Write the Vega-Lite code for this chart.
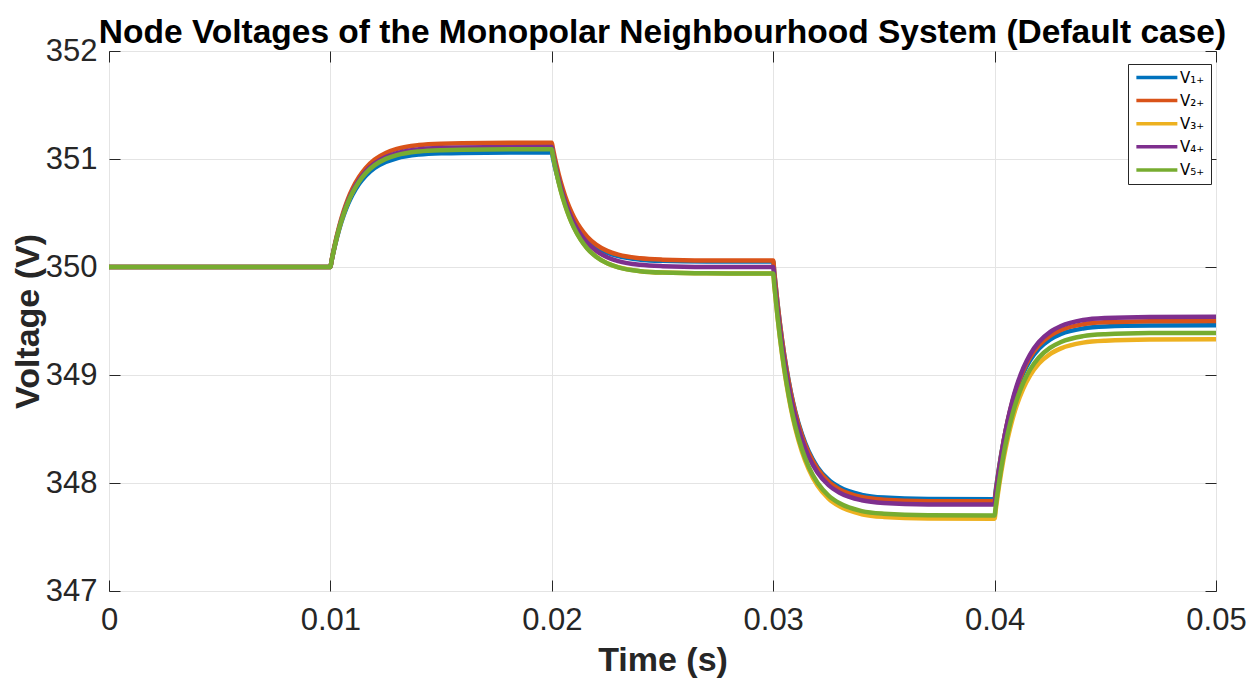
{
  "$schema": "https://vega.github.io/schema/vega-lite/v6.json",
  "width": 1107,
  "height": 540,
  "autosize": {"type": "none"},
  "padding": {"left": 109, "top": 51, "right": 42, "bottom": 89},
  "background": "white",
  "title": {"text": "Node Voltages of the Monopolar Neighbourhood System (Default case)", "font": "Liberation Sans", "fontSize": 33.5, "fontWeight": "bold", "color": "#000000", "anchor": "middle", "offset": -15},
  "config": {"view": {"stroke": "#262626", "strokeWidth": 1}, "font": "Liberation Sans"},
  "data": {"values": [
    {"t": 0, "V1": 350, "V2": 350, "V3": 350, "V4": 350, "V5": 350},
    {"t": 0.01, "V1": 350, "V2": 350, "V3": 350, "V4": 350, "V5": 350},
    {"t": 0.01005, "V1": 350.052, "V2": 350.056, "V3": 350.054, "V4": 350.054, "V5": 350.053},
    {"t": 0.0102, "V1": 350.192, "V2": 350.208, "V3": 350.199, "V4": 350.201, "V5": 350.197},
    {"t": 0.0104, "V1": 350.350, "V2": 350.380, "V3": 350.363, "V4": 350.366, "V5": 350.360},
    {"t": 0.0106, "V1": 350.478, "V2": 350.519, "V3": 350.496, "V4": 350.501, "V5": 350.492},
    {"t": 0.0108, "V1": 350.584, "V2": 350.634, "V3": 350.606, "V4": 350.612, "V5": 350.601},
    {"t": 0.011, "V1": 350.670, "V2": 350.727, "V3": 350.695, "V4": 350.702, "V5": 350.689},
    {"t": 0.0113, "V1": 350.771, "V2": 350.836, "V3": 350.800, "V4": 350.807, "V5": 350.792},
    {"t": 0.0116, "V1": 350.846, "V2": 350.918, "V3": 350.878, "V4": 350.886, "V5": 350.870},
    {"t": 0.012, "V1": 350.917, "V2": 350.995, "V3": 350.952, "V4": 350.960, "V5": 350.943},
    {"t": 0.0125, "V1": 350.973, "V2": 351.056, "V3": 351.010, "V4": 351.019, "V5": 351.001},
    {"t": 0.013, "V1": 351.007, "V2": 351.093, "V3": 351.045, "V4": 351.055, "V5": 351.036},
    {"t": 0.014, "V1": 351.041, "V2": 351.129, "V3": 351.080, "V4": 351.090, "V5": 351.070},
    {"t": 0.015, "V1": 351.053, "V2": 351.142, "V3": 351.092, "V4": 351.102, "V5": 351.082},
    {"t": 0.017, "V1": 351.059, "V2": 351.149, "V3": 351.099, "V4": 351.109, "V5": 351.089},
    {"t": 0.02, "V1": 351.06, "V2": 351.15, "V3": 351.10, "V4": 351.11, "V5": 351.09},
    {"t": 0.02005, "V1": 351.011, "V2": 351.097, "V3": 351.043, "V4": 351.056, "V5": 351.034},
    {"t": 0.0202, "V1": 350.877, "V2": 350.953, "V3": 350.890, "V4": 350.909, "V5": 350.882},
    {"t": 0.0204, "V1": 350.727, "V2": 350.790, "V3": 350.717, "V4": 350.744, "V5": 350.710},
    {"t": 0.0206, "V1": 350.604, "V2": 350.658, "V3": 350.577, "V4": 350.609, "V5": 350.571},
    {"t": 0.0208, "V1": 350.503, "V2": 350.549, "V3": 350.461, "V4": 350.498, "V5": 350.456},
    {"t": 0.021, "V1": 350.422, "V2": 350.461, "V3": 350.367, "V4": 350.408, "V5": 350.363},
    {"t": 0.0213, "V1": 350.326, "V2": 350.358, "V3": 350.257, "V4": 350.303, "V5": 350.254},
    {"t": 0.0216, "V1": 350.254, "V2": 350.280, "V3": 350.174, "V4": 350.224, "V5": 350.172},
    {"t": 0.022, "V1": 350.186, "V2": 350.207, "V3": 350.097, "V4": 350.150, "V5": 350.095},
    {"t": 0.0225, "V1": 350.133, "V2": 350.149, "V3": 350.035, "V4": 350.091, "V5": 350.034},
    {"t": 0.023, "V1": 350.100, "V2": 350.114, "V3": 349.998, "V4": 350.055, "V5": 349.997},
    {"t": 0.024, "V1": 350.068, "V2": 350.080, "V3": 349.961, "V4": 350.020, "V5": 349.961},
    {"t": 0.025, "V1": 350.057, "V2": 350.068, "V3": 349.948, "V4": 350.008, "V5": 349.948},
    {"t": 0.027, "V1": 350.051, "V2": 350.061, "V3": 349.941, "V4": 350.001, "V5": 349.941},
    {"t": 0.03, "V1": 350.05, "V2": 350.06, "V3": 349.94, "V4": 350.00, "V5": 349.94},
    {"t": 0.03005, "V1": 349.942, "V2": 349.951, "V3": 349.829, "V4": 349.892, "V5": 349.830},
    {"t": 0.0302, "V1": 349.652, "V2": 349.656, "V3": 349.529, "V4": 349.602, "V5": 349.535},
    {"t": 0.0304, "V1": 349.324, "V2": 349.324, "V3": 349.191, "V4": 349.274, "V5": 349.201},
    {"t": 0.0306, "V1": 349.058, "V2": 349.054, "V3": 348.916, "V4": 349.008, "V5": 348.930},
    {"t": 0.0308, "V1": 348.838, "V2": 348.831, "V3": 348.689, "V4": 348.788, "V5": 348.706},
    {"t": 0.031, "V1": 348.660, "V2": 348.651, "V3": 348.505, "V4": 348.610, "V5": 348.524},
    {"t": 0.0313, "V1": 348.451, "V2": 348.439, "V3": 348.290, "V4": 348.401, "V5": 348.312},
    {"t": 0.0316, "V1": 348.294, "V2": 348.280, "V3": 348.129, "V4": 348.244, "V5": 348.152},
    {"t": 0.032, "V1": 348.147, "V2": 348.131, "V3": 347.976, "V4": 348.097, "V5": 348.002},
    {"t": 0.0325, "V1": 348.030, "V2": 348.013, "V3": 347.856, "V4": 347.980, "V5": 347.884},
    {"t": 0.033, "V1": 347.960, "V2": 347.941, "V3": 347.783, "V4": 347.910, "V5": 347.812},
    {"t": 0.034, "V1": 347.890, "V2": 347.870, "V3": 347.711, "V4": 347.840, "V5": 347.740},
    {"t": 0.035, "V1": 347.865, "V2": 347.846, "V3": 347.686, "V4": 347.815, "V5": 347.716},
    {"t": 0.037, "V1": 347.852, "V2": 347.832, "V3": 347.672, "V4": 347.802, "V5": 347.702},
    {"t": 0.04, "V1": 347.85, "V2": 347.83, "V3": 347.67, "V4": 347.80, "V5": 347.70},
    {"t": 0.04005, "V1": 347.929, "V2": 347.912, "V3": 347.751, "V4": 347.885, "V5": 347.783},
    {"t": 0.0402, "V1": 348.141, "V2": 348.132, "V3": 347.970, "V4": 348.115, "V5": 348.006},
    {"t": 0.0404, "V1": 348.381, "V2": 348.381, "V3": 348.218, "V4": 348.374, "V5": 348.258},
    {"t": 0.0406, "V1": 348.576, "V2": 348.583, "V3": 348.419, "V4": 348.585, "V5": 348.462},
    {"t": 0.0408, "V1": 348.737, "V2": 348.750, "V3": 348.585, "V4": 348.759, "V5": 348.631},
    {"t": 0.041, "V1": 348.868, "V2": 348.885, "V3": 348.719, "V4": 348.900, "V5": 348.768},
    {"t": 0.0413, "V1": 349.020, "V2": 349.044, "V3": 348.877, "V4": 349.065, "V5": 348.929},
    {"t": 0.0416, "V1": 349.135, "V2": 349.163, "V3": 348.995, "V4": 349.189, "V5": 349.049},
    {"t": 0.042, "V1": 349.243, "V2": 349.275, "V3": 349.106, "V4": 349.305, "V5": 349.162},
    {"t": 0.0425, "V1": 349.328, "V2": 349.363, "V3": 349.194, "V4": 349.397, "V5": 349.251},
    {"t": 0.043, "V1": 349.380, "V2": 349.417, "V3": 349.247, "V4": 349.453, "V5": 349.306},
    {"t": 0.044, "V1": 349.431, "V2": 349.470, "V3": 349.300, "V4": 349.509, "V5": 349.360},
    {"t": 0.045, "V1": 349.449, "V2": 349.488, "V3": 349.318, "V4": 349.528, "V5": 349.378},
    {"t": 0.047, "V1": 349.458, "V2": 349.498, "V3": 349.328, "V4": 349.538, "V5": 349.388},
    {"t": 0.05, "V1": 349.46, "V2": 349.50, "V3": 349.33, "V4": 349.54, "V5": 349.39}
  ]},
  "transform": [{"fold": ["V1", "V2", "V3", "V4", "V5"], "as": ["series", "v"]}],
  "layer": [
    {
      "mark": {"type": "line", "strokeWidth": 4.5, "clip": true, "interpolate": "monotone"},
      "encoding": {
        "x": {"field": "t", "type": "quantitative", "scale": {"domain": [0, 0.05], "nice": false, "zero": false},
          "axis": {"values": [0, 0.01, 0.02, 0.03, 0.04, 0.05], "format": ".2~f", "title": "Time (s)", "titleFont": "Liberation Sans", "titleFontSize": 34, "titleFontWeight": "bold", "titleColor": "#262626", "titlePadding": 8, "labelFont": "Liberation Sans", "labelFontSize": 31, "labelColor": "#262626", "labelPadding": 25, "labelFlush": false, "labelOverlap": false, "grid": true, "gridColor": "#e4e4e4", "gridWidth": 1, "domain": false, "ticks": true, "tickSize": -11, "tickColor": "#262626"}},
        "y": {"field": "v", "type": "quantitative", "scale": {"domain": [347, 352], "nice": false, "zero": false},
          "axis": {"values": [347, 348, 349, 350, 351, 352], "format": "d", "title": "Voltage (V)", "titleFont": "Liberation Sans", "titleFontSize": 34, "titleFontWeight": "bold", "titleColor": "#262626", "titlePadding": 0, "labelFont": "Liberation Sans", "labelFontSize": 31, "labelColor": "#262626", "labelPadding": 23, "labelFlush": false, "labelOverlap": false, "grid": true, "gridColor": "#e4e4e4", "gridWidth": 1, "domain": false, "ticks": true, "tickSize": -11, "tickColor": "#262626"}},
        "color": {"field": "series", "type": "nominal",
          "scale": {"domain": ["V1", "V2", "V3", "V4", "V5"], "range": ["#0072BD", "#D95319", "#EDB120", "#7E2F8E", "#77AC30"]},
          "legend": {"title": null, "orient": "none", "legendX": 1019, "legendY": 13, "symbolType": "M-1,0H7", "symbolSize": 105, "symbolStrokeWidth": 3.5, "labelFont": "DejaVu Sans", "labelFontSize": 15, "labelColor": "#000000", "labelOffset": 31, "rowPadding": 7.1, "padding": 6, "strokeColor": "#262626", "fillColor": "#ffffff",
            "labelExpr": "datum.label == 'V1' ? 'V₁₊' : datum.label == 'V2' ? 'V₂₊' : datum.label == 'V3' ? 'V₃₊' : datum.label == 'V4' ? 'V₄₊' : 'V₅₊'"}}
      }
    },
    {
      "mark": {"type": "line", "opacity": 0},
      "encoding": {
        "x": {"field": "t", "type": "quantitative", "axis": {"orient": "top", "values": [0, 0.01, 0.02, 0.03, 0.04, 0.05], "labels": false, "title": null, "grid": false, "domain": false, "tickSize": -11, "tickColor": "#262626"}},
        "y": {"field": "v", "type": "quantitative", "axis": {"orient": "right", "values": [347, 348, 349, 350, 351, 352], "labels": false, "title": null, "grid": false, "domain": false, "tickSize": -11, "tickColor": "#262626"}},
        "detail": {"field": "series"}
      }
    }
  ],
  "resolve": {"axis": {"x": "independent", "y": "independent"}}
}
